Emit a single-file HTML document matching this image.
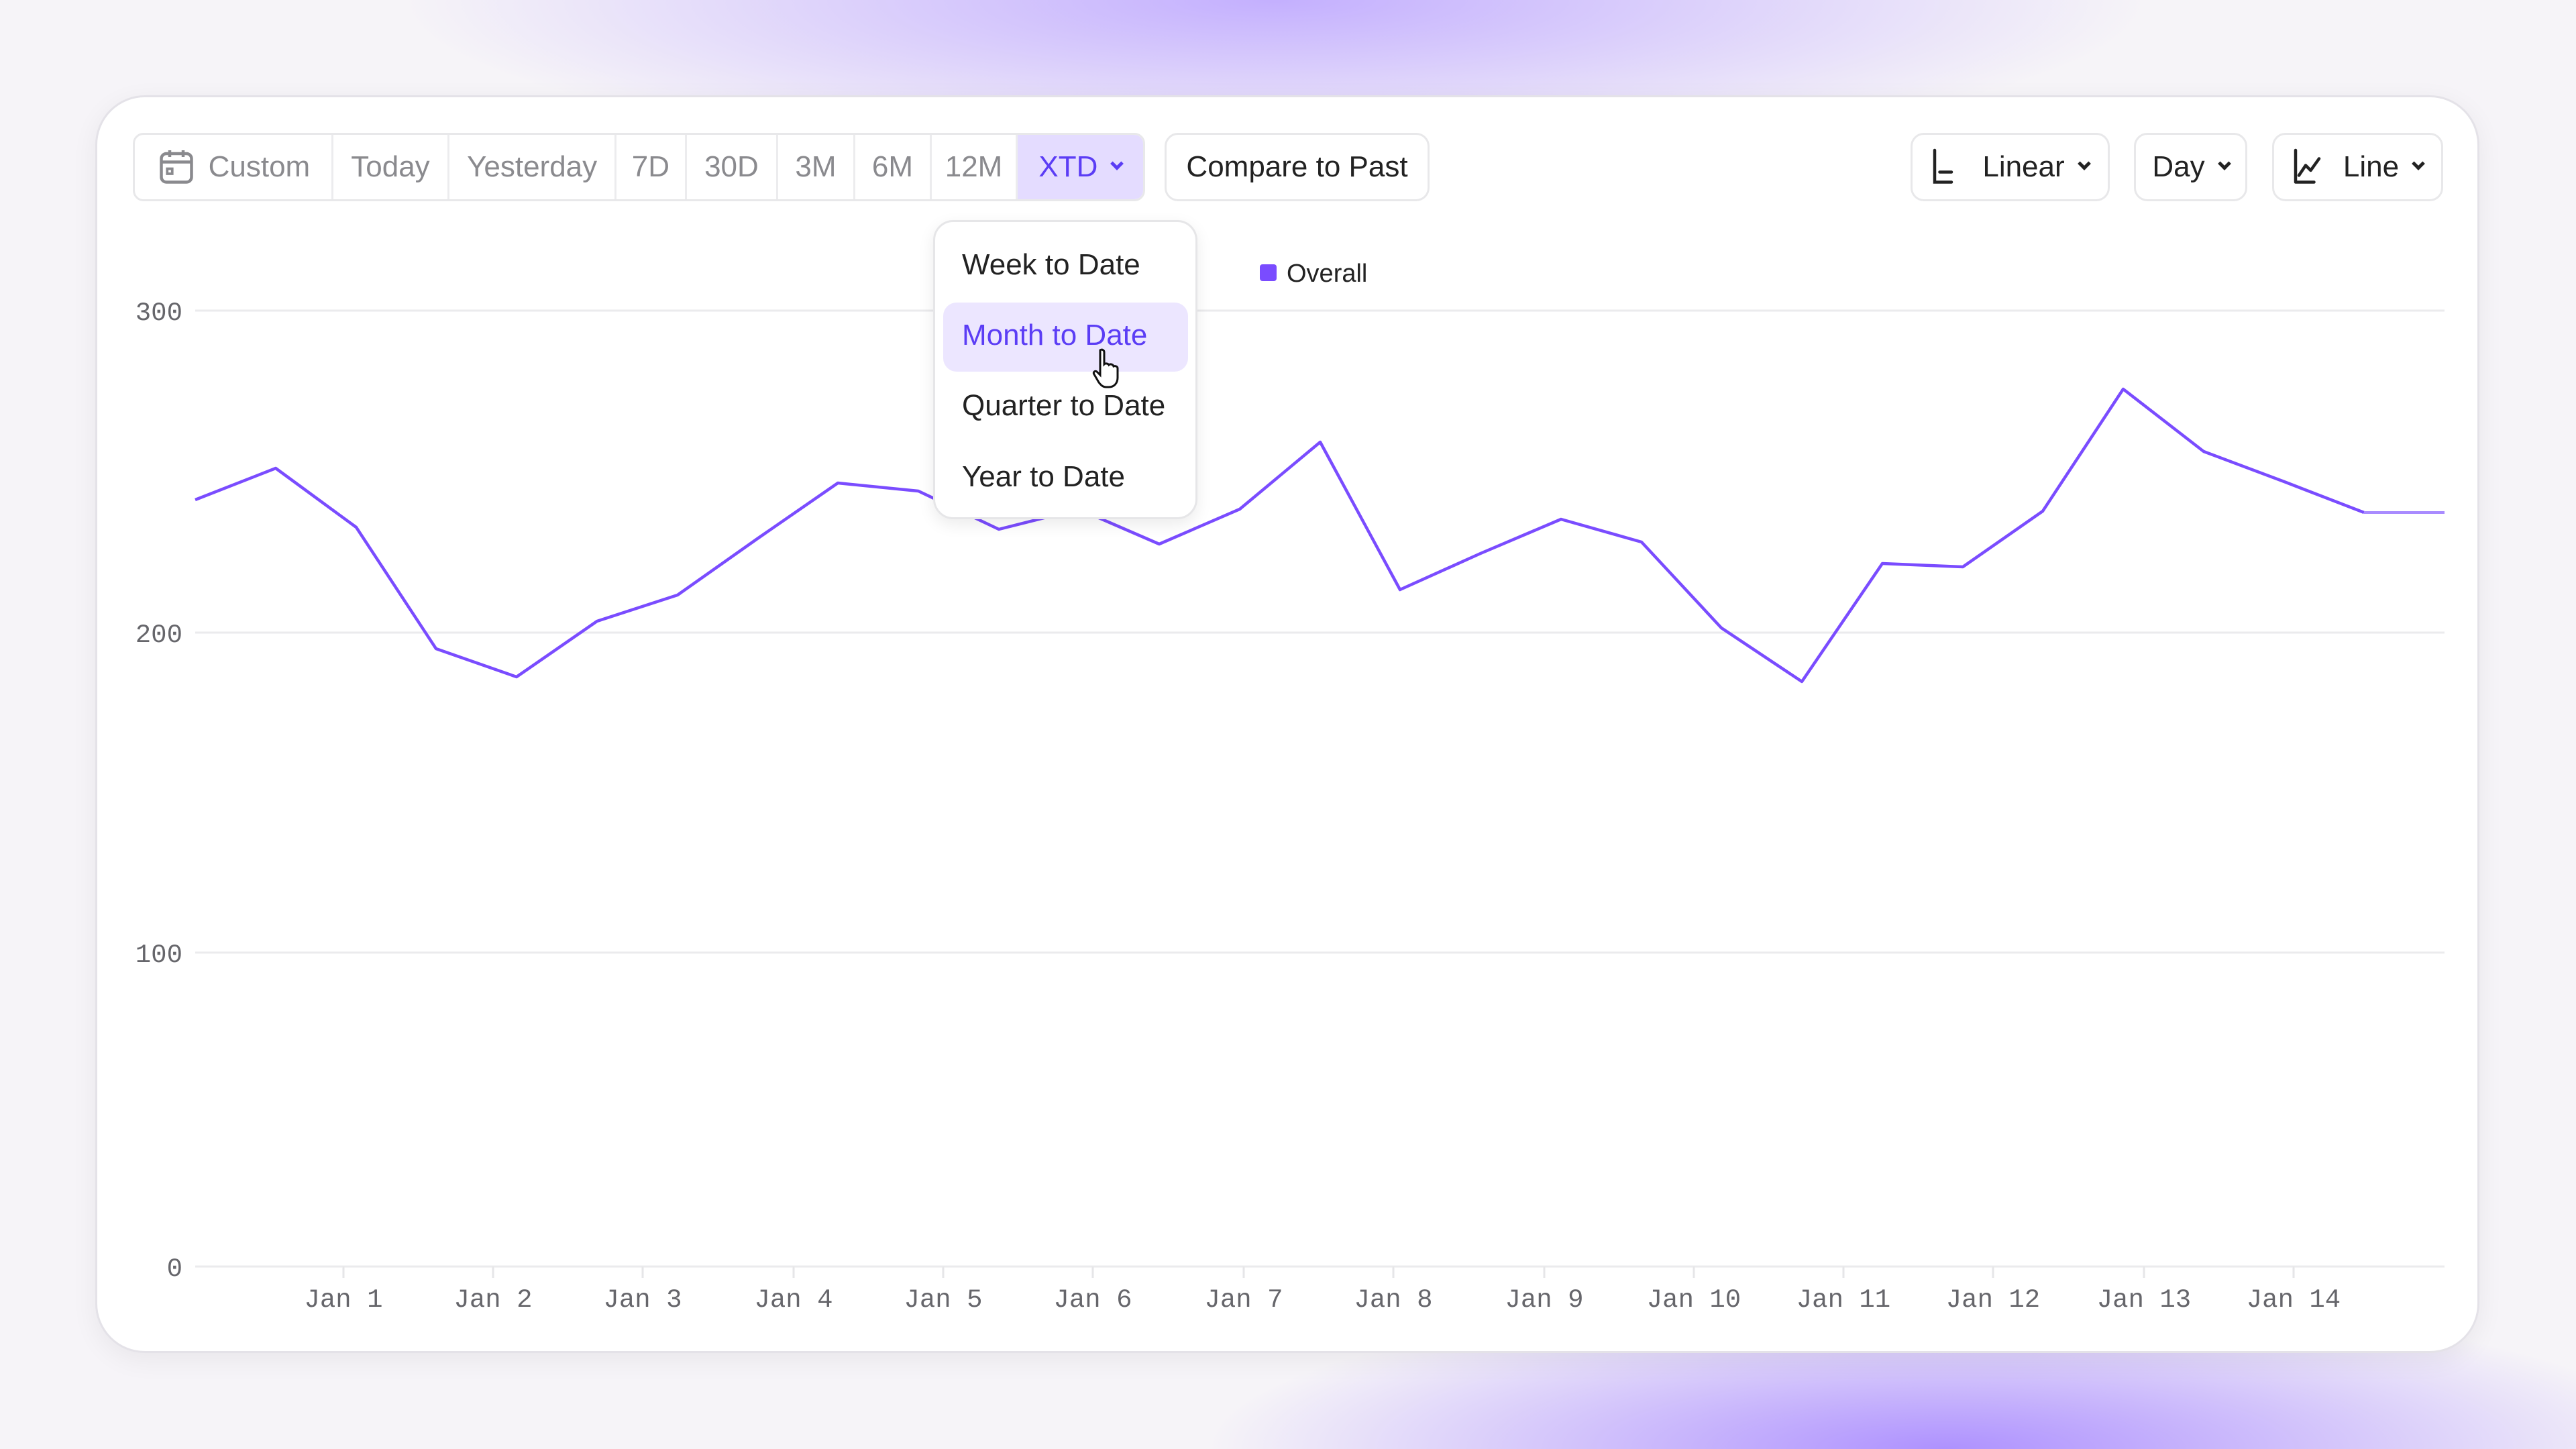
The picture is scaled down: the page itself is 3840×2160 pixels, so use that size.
<!DOCTYPE html>
<html><head><meta charset="utf-8"><style>
*{box-sizing:border-box;margin:0;padding:0}
html,body{width:3840px;height:2160px;overflow:hidden}
body{font-family:"Liberation Sans",sans-serif;background:
radial-gradient(ellipse 1300px 240px at 1900px 0px, rgba(190,168,255,0.9), rgba(190,168,255,0) 100%),
radial-gradient(ellipse 1100px 230px at 2900px 2160px, rgba(170,140,255,0.95), rgba(170,140,255,0) 100%),
#f6f4f8}
#wrap{position:relative;width:3840px;height:2160px;overflow:hidden}
.card{position:absolute;left:142px;top:142px;width:3554px;height:1875px;background:#fff;border-radius:74px;border:3px solid #e4e2e8;box-shadow:0 10px 40px rgba(0,0,0,0.06)}
.seg{position:absolute;left:198px;top:198px;height:102px;width:1509px;border:3px solid #e8e8ea;border-radius:16px;display:flex;overflow:hidden;background:#fff}
.seg div{height:100%;display:flex;align-items:center;justify-content:center;border-right:3px solid #ececee;color:#8a8a8e;font-size:44px}
.btn{position:absolute;top:198px;height:102px;border:3px solid #e8e8ea;border-radius:20px;display:flex;align-items:center;justify-content:center;color:#222;font-size:44px;background:#fff}
.chev{display:inline-block;width:14px;height:14px;border-right:5px solid currentColor;border-bottom:5px solid currentColor;transform:rotate(45deg);margin-left:22px;margin-top:-10px}
.dd{position:absolute;left:1391px;top:328px;width:394px;height:446px;background:#fff;border:3px solid #e6e6e8;border-radius:30px;box-shadow:0 8px 24px rgba(0,0,0,0.08)}
.dd div{position:absolute;left:40px;font-size:44px;color:#222;line-height:60px}
</style></head><body><div id="wrap">
<div class="card"></div>
<div class="seg">
<div style="width:297px;color:#8a8a8e"><svg width="60" height="60" viewBox="0 0 24 24" style="margin-right:18px"><rect x="3" y="4" width="18" height="17" rx="3" fill="none" stroke="#8a8a8e" stroke-width="1.8"/><line x1="3" y1="9" x2="21" y2="9" stroke="#8a8a8e" stroke-width="1.8"/><line x1="8" y1="2" x2="8" y2="6" stroke="#8a8a8e" stroke-width="1.8"/><line x1="16" y1="2" x2="16" y2="6" stroke="#8a8a8e" stroke-width="1.8"/><rect x="6.5" y="13" width="3" height="3" fill="none" stroke="#8a8a8e" stroke-width="1.5"/></svg>Custom</div>
<div style="width:174px">Today</div>
<div style="width:250px">Yesterday</div>
<div style="width:105px">7D</div>
<div style="width:137px">30D</div>
<div style="width:115px">3M</div>
<div style="width:115px">6M</div>
<div style="width:128px">12M</div>
<div style="width:188px;background:#e4dcff;color:#5b3df5;border-right:none">XTD<span class="chev"></span></div>
</div>
<div class="btn" style="left:1736px;width:395px">Compare to Past</div>
<div class="btn" style="left:2848px;width:297px"><svg width="60" height="60" viewBox="0 0 24 24" style="margin-right:16px"><path d="M2 2V21H12M5 15H12" fill="none" stroke="#222" stroke-width="1.8" stroke-linecap="round"/></svg>Linear<span class="chev"></span></div>
<div class="btn" style="left:3181px;width:169px">Day<span class="chev"></span></div>
<div class="btn" style="left:3387px;width:255px"><svg width="60" height="60" viewBox="0 0 24 24" style="margin-right:16px"><path d="M2 2V21H13M4 17L8 11L11 14L16 7" fill="none" stroke="#222" stroke-width="1.8" stroke-linecap="round" stroke-linejoin="round"/></svg>Line<span class="chev"></span></div>

<svg style="position:absolute;left:0;top:0" width="3840" height="2160">
<g stroke="#ebebed" stroke-width="3">
<line x1="291" y1="463" x2="3644" y2="463"/><line x1="291" y1="943" x2="3644" y2="943"/><line x1="291" y1="1420" x2="3644" y2="1420"/><line x1="291" y1="1888" x2="3644" y2="1888"/>
</g>
<g stroke="#e6e6e8" stroke-width="3">
<line x1="512" y1="1888" x2="512" y2="1905"/><line x1="735" y1="1888" x2="735" y2="1905"/><line x1="958" y1="1888" x2="958" y2="1905"/><line x1="1183" y1="1888" x2="1183" y2="1905"/><line x1="1406" y1="1888" x2="1406" y2="1905"/><line x1="1629" y1="1888" x2="1629" y2="1905"/><line x1="1854" y1="1888" x2="1854" y2="1905"/><line x1="2077" y1="1888" x2="2077" y2="1905"/><line x1="2302" y1="1888" x2="2302" y2="1905"/><line x1="2525" y1="1888" x2="2525" y2="1905"/><line x1="2748" y1="1888" x2="2748" y2="1905"/><line x1="2971" y1="1888" x2="2971" y2="1905"/><line x1="3196" y1="1888" x2="3196" y2="1905"/><line x1="3419" y1="1888" x2="3419" y2="1905"/>
</g>
<g font-family="Liberation Mono,monospace" font-size="39" fill="#66666b" text-anchor="end">
<text x="272" y="477">300</text><text x="272" y="957">200</text><text x="272" y="1434">100</text><text x="272" y="1902">0</text>
</g>
<g font-family="Liberation Mono,monospace" font-size="39" fill="#66666b" text-anchor="middle">
<text x="512" y="1948">Jan 1</text><text x="735" y="1948">Jan 2</text><text x="958" y="1948">Jan 3</text><text x="1183" y="1948">Jan 4</text><text x="1406" y="1948">Jan 5</text><text x="1629" y="1948">Jan 6</text><text x="1854" y="1948">Jan 7</text><text x="2077" y="1948">Jan 8</text><text x="2302" y="1948">Jan 9</text><text x="2525" y="1948">Jan 10</text><text x="2748" y="1948">Jan 11</text><text x="2971" y="1948">Jan 12</text><text x="3196" y="1948">Jan 13</text><text x="3419" y="1948">Jan 14</text>
</g>
<polyline fill="none" stroke="#7a4cff" stroke-width="4.5" stroke-linejoin="round" points="291,745 411,698 531,786 650,967 770,1009 890,926 1010,887 1129,803 1249,720 1369,732 1489,789 1608,759 1728,811 1848,759 1968,659 2087,879 2207,825 2327,774 2447,808 2566,936 2686,1016 2806,840 2926,845 3045,762 3165,580 3285,673 3405,718 3524,764"/>
<line x1="3524" y1="764" x2="3644" y2="764" stroke="#a98bff" stroke-width="4"/>
<rect x="1878" y="394" width="25" height="25" rx="4" fill="#7a4cff"/>
<text x="1918" y="420" font-family="Liberation Sans,sans-serif" font-size="38" fill="#222">Overall</text>
</svg>

<div class="dd">
<div style="top:34px">Week to Date</div>
<div style="top:120px;left:12px;width:365px;height:103px;background:#ece6ff;border-radius:20px"></div>
<div style="top:139px;color:#5b3df5">Month to Date</div>
<div style="top:244px">Quarter to Date</div>
<div style="top:350px">Year to Date</div>
</div>
<svg style="position:absolute;left:1628px;top:518px" width="46" height="64" viewBox="0 0 46 64"><path d="M12 4c3-2 6 0 6 3v18c2-2 6-1 7 1 2-2 6-1 7 2 2-1 6 0 6 3v14c0 8-5 14-13 14h-4c-5 0-8-3-11-7L3 40c-2-3 1-6 4-4l5 5V7z" fill="#fff" stroke="#111" stroke-width="3"/></svg>
</div></body></html>
